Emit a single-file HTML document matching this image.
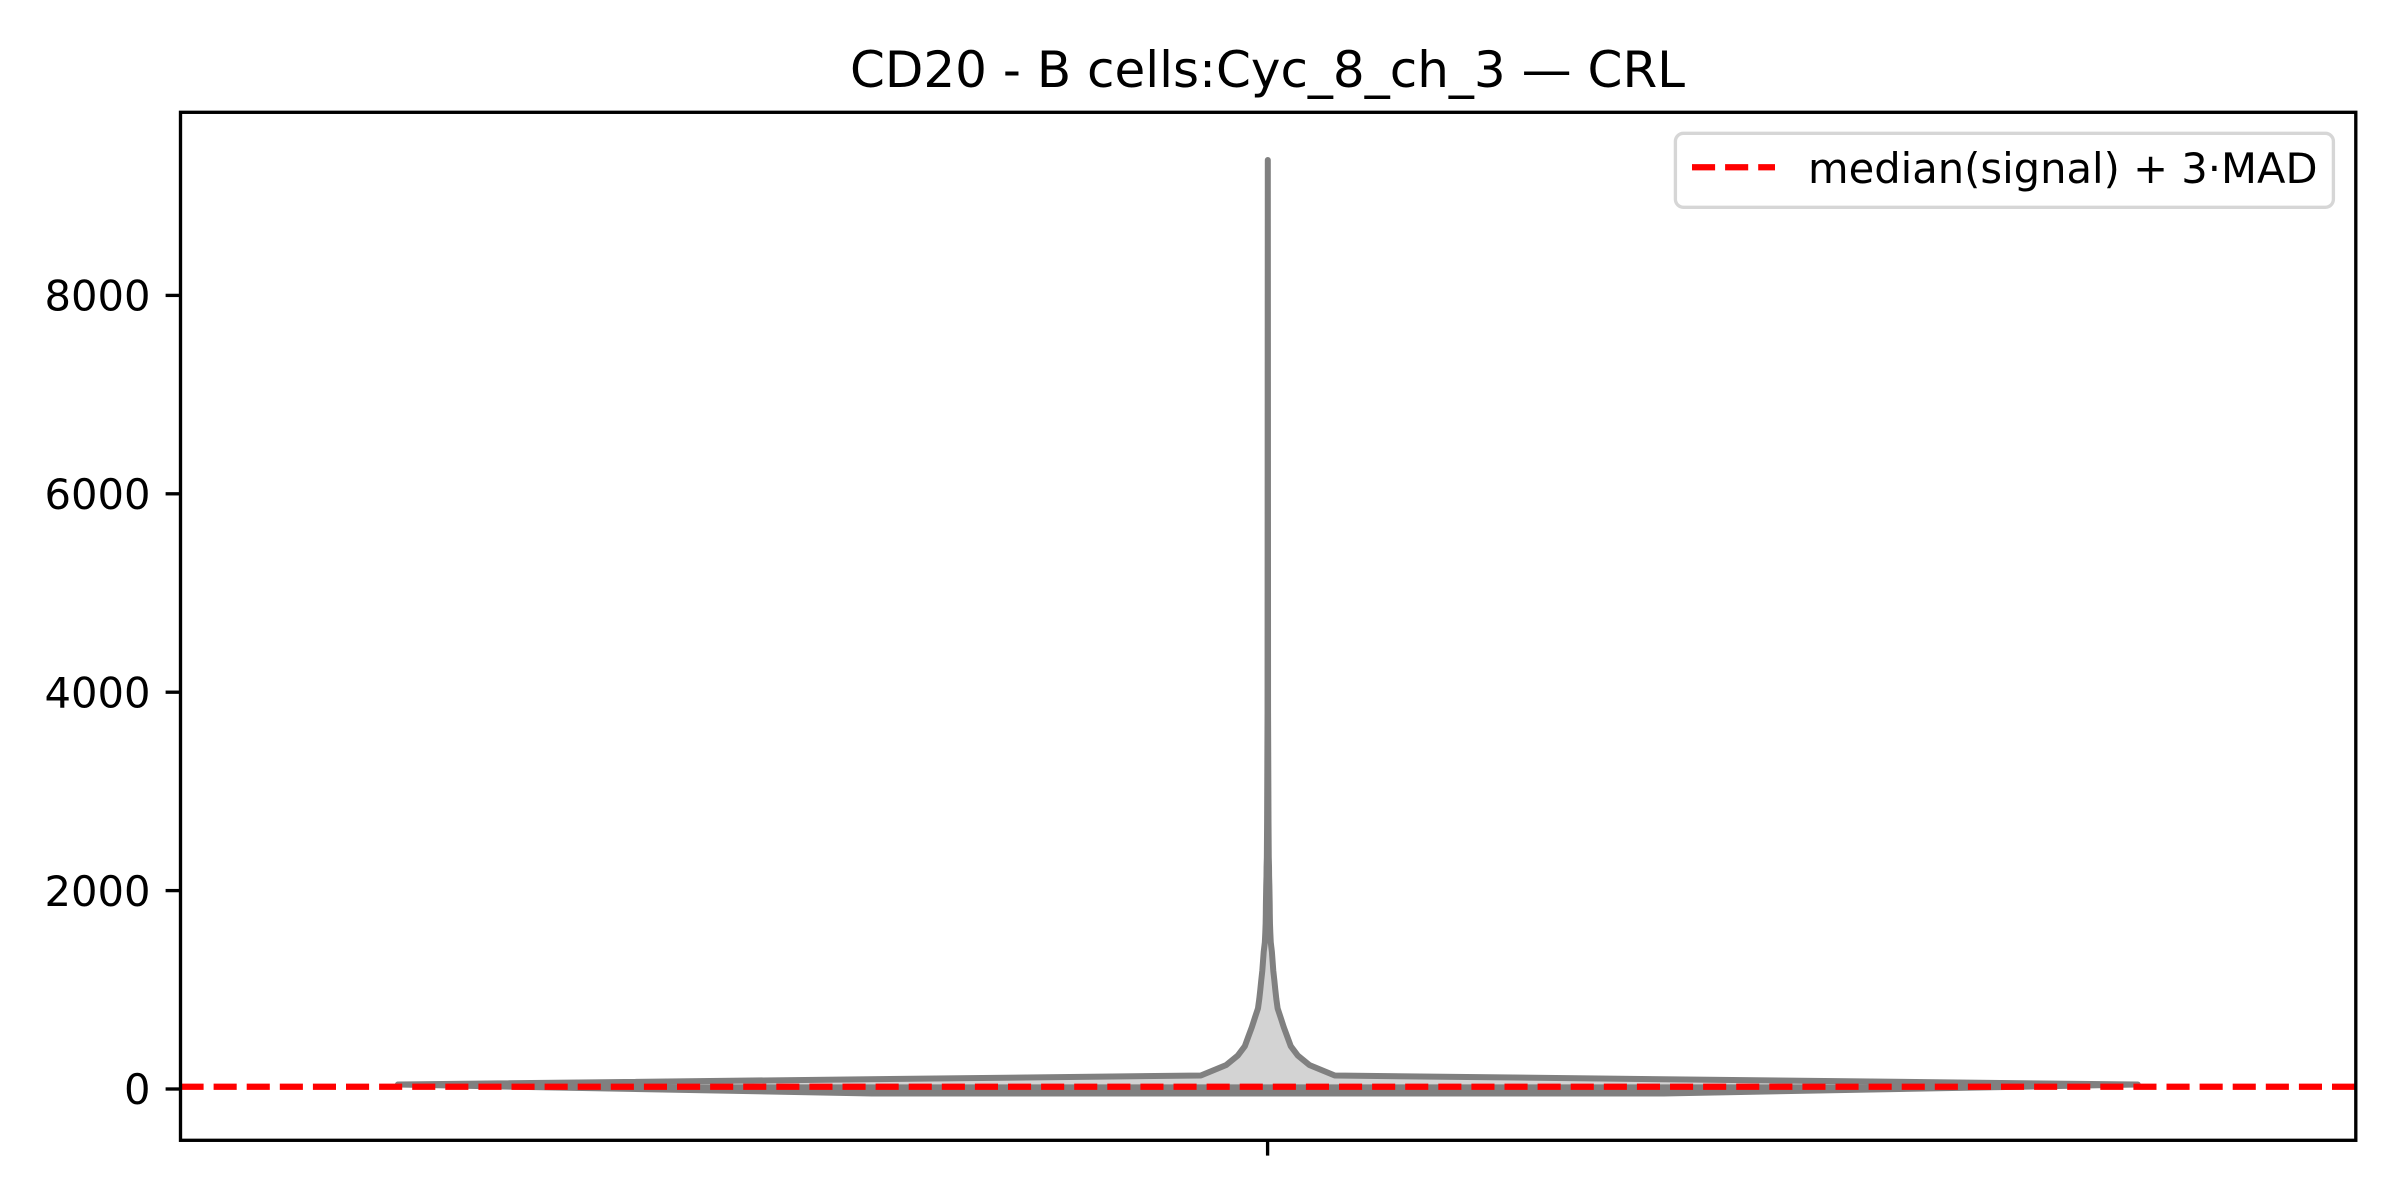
<!DOCTYPE html>
<html lang="en">
<head>
<meta charset="utf-8">
<title>CD20 - B cells:Cyc_8_ch_3 — CRL</title>
<style>
  html, body { margin: 0; padding: 0; background: #ffffff; }
  body { width: 2400px; height: 1200px; overflow: hidden; }
  svg { display: block; }
  text { font-family: "DejaVu Sans", "Liberation Sans", sans-serif; fill: #000000; }
</style>
</head>
<body>
<svg id="chart" xmlns="http://www.w3.org/2000/svg" width="2400" height="1200" viewBox="0 0 2400 1200">
  <rect x="0" y="0" width="2400" height="1200" fill="#ffffff"/>
  <text x="1267.5" y="87" font-size="50" text-anchor="middle">CD20 - B cells:Cyc_8_ch_3 — CRL</text>
  <defs>
    <clipPath id="plot-clip"><rect x="180.5" y="112.3" width="2175.3" height="1028"/></clipPath>
  </defs>
  <g id="marks" clip-path="url(#plot-clip)"></g>
  <rect x="180.5" y="112.3" width="2175.3" height="1028" fill="none" stroke="#000000" stroke-width="3.33"/>
  <g id="y-axis"></g>
  <line x1="1267.6" x2="1267.6" y1="1140.3" y2="1155.6" stroke="#000000" stroke-width="3.33"/>
  <g>
    <rect x="1675.4" y="133.3" width="658" height="74" rx="8" ry="8" fill="#ffffff" fill-opacity="0.8" stroke="#d6d6d6" stroke-width="3.33"/>
    <line x1="1692" x2="1775" y1="167.3" y2="167.3" stroke="#ff0000" stroke-width="6.25" stroke-dasharray="23.1 10"/>
    <text x="1808" y="183" font-size="41.67">median(signal) + 3·MAD</text>
  </g>
</svg>
<script>
// Signal levels of the violin outline (data units) and relative half-width at each level.
const signalLevels = [-45, 45, 136, 242, 337, 432, 527, 622, 717, 812, 907, 1002, 1097, 1193, 1288, 1383, 1478, 1573, 1668, 1763, 1858, 1954, 2049, 2144, 2239, 2334, 2700, 3800, 5800, 7800, 9365];
const densityWidths = [0.455, 1, 0.077, 0.0477, 0.0345, 0.0264, 0.0224, 0.0184, 0.0149, 0.0113, 0.0098, 0.0086, 0.0075, 0.0063, 0.0055, 0.0047, 0.0034, 0.0029, 0.0025, 0.0023, 0.0022, 0.002, 0.0018, 0.0015, 0.0014, 0.0011, 0.0008, 0.0003, 0.0002, 0.0001, 0];
// Individual observations drawn as inner sticks (the dense low-signal band).
const stickValues = [-40, -32, -24, -16, -8, 0, 8, 16, 24, 32];
// Threshold line: median(signal) + 3·MAD.
const thresholdValues = [23];
const yTickValues = [0, 2000, 4000, 6000, 8000];
const yTickLabels = ['0', '2000', '4000', '6000', '8000'];

const SVG_NS = 'http://www.w3.org/2000/svg';
const yScale = function (v) { return 1089 - v * 0.0992; };
const xCenter = 1267.8;
const halfWidthScale = function (d) { return d * 870; };

function densityAt(v) {
  for (let i = 0; i < signalLevels.length - 1; i++) {
    if (v >= signalLevels[i] && v <= signalLevels[i + 1]) {
      const t = (v - signalLevels[i]) / (signalLevels[i + 1] - signalLevels[i]);
      return densityWidths[i] + t * (densityWidths[i + 1] - densityWidths[i]);
    }
  }
  return 0;
}

function make(tag, attrs) {
  const el = document.createElementNS(SVG_NS, tag);
  for (const k in attrs) el.setAttribute(k, attrs[k]);
  return el;
}

const marks = document.getElementById('marks');
const yAxis = document.getElementById('y-axis');

const right = signalLevels.map(function (v, i) {
  return (xCenter + halfWidthScale(densityWidths[i])).toFixed(2) + ',' + yScale(v).toFixed(2);
});
const left = signalLevels.map(function (v, i) {
  return (xCenter - halfWidthScale(densityWidths[i])).toFixed(2) + ',' + yScale(v).toFixed(2);
}).reverse();
const outlinePoints = right.concat(left).join(' ');

const body = make('polygon', { points: outlinePoints, fill: '#d3d3d3', stroke: 'none' });


marks.appendChild(body);

stickValues.forEach(function (v) {
  const w = halfWidthScale(densityAt(v));
  const stick = make('line', {
    x1: xCenter - w, x2: xCenter + w, y1: yScale(v), y2: yScale(v),
    stroke: '#808080', 'stroke-width': 3
  });
  
  
  marks.appendChild(stick);
});

const outline = make('polygon', {
  points: outlinePoints, fill: 'none', stroke: '#808080',
  'stroke-width': 6, 'stroke-linejoin': 'round'
});


marks.appendChild(outline);

thresholdValues.forEach(function (v) {
  const line = make('line', {
    x1: 180.5, x2: 2355.8, y1: yScale(v), y2: yScale(v),
    stroke: '#ff0000', 'stroke-width': 6.25, 'stroke-dasharray': '23.1 10'
  });
  
  
  marks.appendChild(line);
});

yTickValues.forEach(function (v, i) {
  const y = yScale(v);
  const tick = make('line', { x1: 165.6, x2: 180.5, y1: y, y2: y, stroke: '#000000', 'stroke-width': 3.33 });
  
  
  yAxis.appendChild(tick);
  const label = make('text', { x: 150.5, y: y + 15.2, 'font-size': 41.67, 'text-anchor': 'end' });
  label.textContent = yTickLabels[i];
  
  
  yAxis.appendChild(label);
});
</script>
</body>
</html>
